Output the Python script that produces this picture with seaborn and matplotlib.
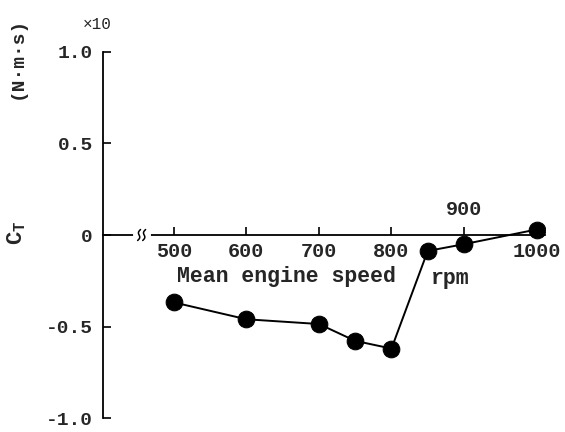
import numpy as np
import pandas as pd
import seaborn as sns
import matplotlib.pyplot as plt

# engine speed (rpm) and torque coefficient C_T (x10 N.m.s)
speed = [500, 600, 700, 750, 800, 850, 900, 1000]
ct = [-0.368, -0.46, -0.486, -0.578, -0.62, -0.087, -0.05, 0.03]
xticks = [500, 600, 700, 800, 900, 1000]
xlabels = ['500', '600', '700', '800', '', '1000']
yticks = [1.0, 0.5, 0, -0.5, -1.0]
ylabels = ['1.0', '0.5', '0', '-0.5', '-1.0']

df = pd.DataFrame({'speed': speed, 'ct': ct})

sns.set_theme(style='white')
plt.rcParams['font.family'] = ['Liberation Mono', 'DejaVu Sans Mono']
plt.rcParams['mathtext.fontset'] = 'custom'
plt.rcParams['mathtext.rm'] = 'Liberation Mono:bold'
plt.rcParams['mathtext.it'] = 'Liberation Mono:bold'

fig = plt.figure(figsize=(5.65, 4.32), dpi=100)
ax = fig.add_axes([0.182, 0.032, 0.783, 0.848])

sns.lineplot(data=df, x='speed', y='ct', marker='o', markersize=12,
             color='black', linewidth=1.4, markeredgecolor='black', ax=ax)

ax.set_xlim(402, 1012)
ax.set_ylim(-1.0, 1.0)

for s in ['top', 'right']:
    ax.spines[s].set_visible(False)
ax.spines['left'].set_position(('data', 402))
ax.spines['bottom'].set_position(('data', 0))
for s in ['left', 'bottom']:
    ax.spines[s].set_color('black')
    ax.spines[s].set_linewidth(1.3)

ax.set_yticks(yticks)
ax.set_yticklabels(ylabels, fontsize=14, fontweight='bold')
ax.set_xticks(xticks)
ax.set_xticklabels(xlabels, fontsize=14.5, fontweight='bold')
ax.tick_params(axis='both', direction='in', length=6, width=1.2, color='black',
               bottom=True, left=True)
ax.tick_params(axis='y', pad=7)
ax.tick_params(axis='x', pad=5)
ax.set_xlabel('')
ax.set_ylabel('')

# 900 label sits above the axis
ax.text(900, 0.09, '900', ha='center', va='bottom', fontsize=14.5, fontweight='bold')
ax.text(504, -0.225, 'Mean engine speed', ha='left', va='center', fontsize=15.5, fontweight='bold')
ax.text(854, -0.235, 'rpm', ha='left', va='center', fontsize=15.5, fontweight='bold')

# axis break
ax.plot([447, 465], [0, 0], color='white', linewidth=3, zorder=3, clip_on=False)
t = np.linspace(-1, 1, 30)
for x0 in [452, 459]:
    ax.plot(x0 + 2 * t - 1.8 * np.sin(np.pi * t), 0.03 * t, color='black',
            linewidth=1.1, zorder=4, clip_on=False)

fig.text(0.172, 0.944, '×10', ha='center', va='center', fontsize=11.5)
fig.text(0.03, 0.867, '(N·m·s)', rotation=90, ha='center', va='center',
         fontsize=14, fontweight='bold')
fig.text(0.03, 0.462, r'$\mathrm{C_T}$', rotation=90, ha='center', va='center',
         fontsize=16)

fig.savefig('out.png', dpi=100)
